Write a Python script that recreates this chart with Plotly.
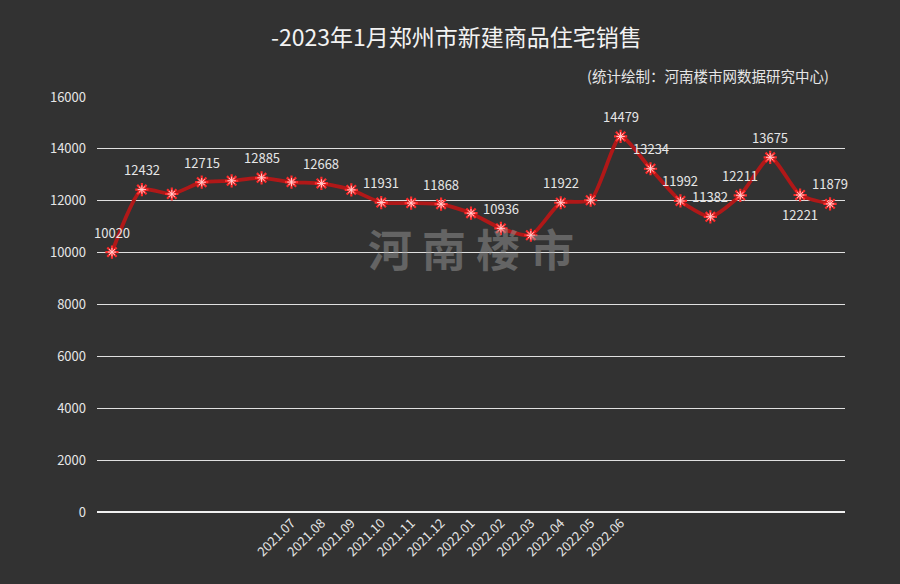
import plotly.graph_objects as go

months = ["2021.01", "2021.02", "2021.03", "2021.04", "2021.05", "2021.06",
          "2021.07", "2021.08", "2021.09", "2021.10", "2021.11", "2021.12",
          "2022.01", "2022.02", "2022.03", "2022.04", "2022.05", "2022.06",
          "2022.07", "2022.08", "2022.09", "2022.10", "2022.11", "2022.12",
          "2023.01"]
sales = [10020, 12432, 12260, 12715, 12770, 12885, 12720, 12668, 12420,
         11931, 11910, 11868, 11520, 10936, 10670, 11922, 12020, 14479,
         13234, 11992, 11382, 12211, 13675, 12221, 11879]
labeled = [True, True, False, True, False, True, False, True, False,
           True, False, True, False, True, False, True, False, True,
           True, True, True, True, True, True, True]
below = ["2022.12"]
visible_ticks = ["2021.07", "2021.08", "2021.09", "2021.10", "2021.11", "2021.12",
                 "2022.01", "2022.02", "2022.03", "2022.04", "2022.05", "2022.06"]
y_ticks = [0, 2000, 4000, 6000, 8000, 10000, 12000, 14000, 16000]

BG = "#323232"
TXT = "#e6e6e6"
FONT = "Noto Sans CJK SC"

fig = go.Figure()
fig.add_trace(go.Scatter(
    x=months, y=sales, mode="lines",
    line=dict(color="#b01818", width=3.8, shape="spline", smoothing=0.6),
    hoverinfo="skip", showlegend=False))
fig.add_trace(go.Scatter(
    x=months, y=sales, mode="markers",
    marker=dict(symbol="asterisk-open", size=11, color="#ff2b2b",
                line=dict(color="#ff3030", width=2.2)),
    showlegend=False))
fig.add_trace(go.Scatter(
    x=months, y=sales, mode="markers",
    marker=dict(symbol="asterisk-open", size=7, color="#ffd0d0",
                line=dict(color="#ffd0d0", width=1)),
    hoverinfo="skip", showlegend=False))

annotations = [
    dict(text="河 南 楼 市", xref="paper", yref="paper",
         x=0.5, y=0.637, xanchor="center", yanchor="middle",
         showarrow=False,
         font=dict(family=FONT, size=44, color="rgba(150,150,150,0.5)",
                   weight="bold")),
]
for i, (m, v, show) in enumerate(zip(months, sales, labeled)):
    if not show:
        continue
    annotations.append(dict(
        x=i, y=v, xref="x", yref="y", text=str(v), showarrow=False,
        yshift=-19 if m in below else 20, xanchor="center", yanchor="middle",
        font=dict(family=FONT, size=13, color=TXT)))

annotations += [
    dict(text="-2023年1月郑州市新建商品住宅销售", xref="paper", yref="paper",
         x=0.48, y=1.0, yshift=61, xanchor="center", yanchor="middle",
         showarrow=False, font=dict(family=FONT, size=23, color="#f2f2f2")),
    dict(text="(统计绘制：河南楼市网数据研究中心)", xref="paper", yref="paper",
         x=1.0, y=1.0, xshift=-14, yshift=22, xanchor="right", yanchor="middle",
         showarrow=False, font=dict(family=FONT, size=14.5, color=TXT)),
]

fig.update_layout(
    width=900, height=584,
    paper_bgcolor=BG, plot_bgcolor=BG,
    margin=dict(l=97, r=55, t=97, b=72),
    font=dict(family=FONT, color=TXT),
    xaxis=dict(type="category", categoryorder="array", categoryarray=months,
               range=[-0.5, len(months) - 0.5],
               tickmode="array", tickvals=visible_ticks, ticktext=visible_ticks,
               tickangle=-45, tickfont=dict(size=13, color=TXT),
               showgrid=False, showline=False, zeroline=False, ticks=""),
    yaxis=dict(range=[0, 16000], tickmode="array", tickvals=y_ticks,
               ticktext=[str(t) for t in y_ticks],
               tickfont=dict(size=13, color=TXT),
               showgrid=True, gridcolor="#e0e0e0", gridwidth=1,
               zeroline=True, zerolinecolor="#f0f0f0", zerolinewidth=1.5,
               showline=False, ticks="", ticklabelstandoff=10),
    annotations=annotations,
)

fig.write_html("out.html")
